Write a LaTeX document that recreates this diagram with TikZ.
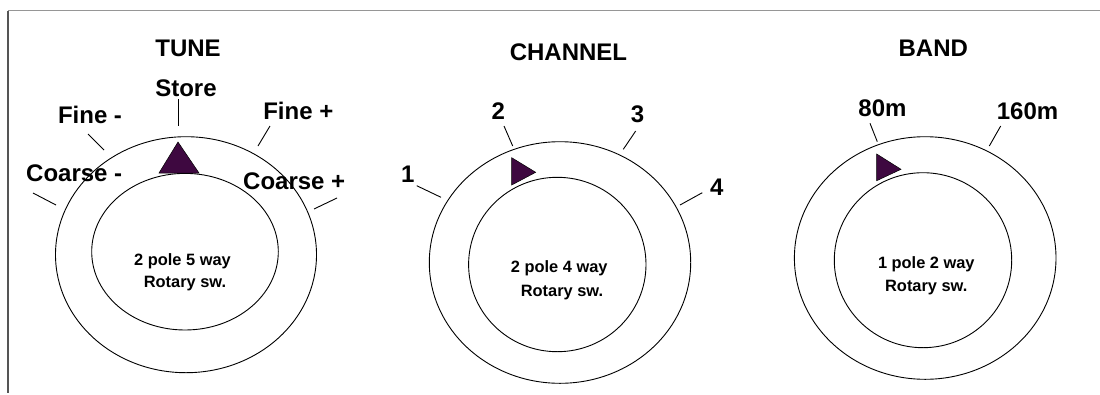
\documentclass[tikz,border=0pt]{standalone}
\usepackage{fontspec}
\setmainfont{Liberation Sans}
\definecolor{knob}{RGB}{62,8,64}
\definecolor{frametop}{RGB}{150,150,150}
\definecolor{frameleft}{RGB}{85,85,85}
\tikzset{
  ring/.style={draw=black, line width=0.9pt},
  tick/.style={draw=black, line width=0.9pt},
  title/.style={font=\bfseries\fontsize{24}{27}\selectfont, anchor=base, inner sep=0pt},
  lbl/.style={font=\bfseries\fontsize{24}{27}\selectfont, anchor=base, inner sep=0pt},
  inner/.style={font=\bfseries\fontsize{16.4}{19}\selectfont, anchor=base, inner sep=0pt},
  pointer/.style={fill=knob, draw=black, line width=0.5pt},
}
\begin{document}
\begin{tikzpicture}[x=1pt,y=-1pt]
\useasboundingbox (0,0) rectangle (1100,394);
% frame
\draw[frametop, line width=1.5pt] (8,10.5) -- (1100,10.5);
\draw[frameleft, line width=1.5pt] (8,10.5) -- (8,393);

% ================= TUNE =================
\node[title] (tuneT) at (188,56) {TUNE};
\draw[ring] (186,254.7) ellipse [x radius=130.5pt, y radius=118pt];
\draw[ring] (185,251.7) ellipse [x radius=93.3pt, y radius=78.3pt];
\node[inner] (tuneA) at (182.5,265) {2 pole 5 way};
\node[inner] (tuneB) at (185,287.3) {Rotary sw.};
\filldraw[pointer] (178,142) -- (159,173) -- (199,173) -- cycle;
\node[lbl] (store) at (186,96) {Store};
\node[lbl] (finem) at (90,123.3) {Fine -};
\node[lbl] (finep) at (298.3,119) {Fine +};
\node[lbl] (coarsem) at (74.2,181.7) {Coarse -};
\node[lbl] (coarsep) at (294.2,189.3) {Coarse +};
\coordinate (s1) at (178,99);  \coordinate (s2) at (178,126);
\coordinate (f1) at (88,134);  \coordinate (f2) at (104,150);
\coordinate (g1) at (270,126); \coordinate (g2) at (258,146);
\coordinate (c1) at (33,193);  \coordinate (c2) at (56,205);
\coordinate (d1) at (337,198); \coordinate (d2) at (314,209);
\draw[tick] (s1) -- (s2);
\draw[tick] (f1) -- (f2);
\draw[tick] (g1) -- (g2);
\draw[tick] (c1) -- (c2);
\draw[tick] (d1) -- (d2);

% ================= CHANNEL =================
\node[title] (chT) at (568.5,60) {CHANNEL};
\draw[ring] (560,262.5) ellipse [x radius=130.7pt, y radius=120.8pt];
\draw[ring] (557.3,264.5) ellipse [x radius=88.7pt, y radius=87.2pt];
\node[inner] (chA) at (559.2,272.7) {2 pole 4 way};
\node[inner] (chB) at (562,296) {Rotary sw.};
\filldraw[pointer] (511.7,157.7) -- (535.7,172.3) -- (511.7,185) -- cycle;
\node[lbl] (ch1) at (407.7,182.7) {1};
\node[lbl] (ch2) at (498.3,119) {2};
\node[lbl] (ch3) at (637.5,122.3) {3};
\node[lbl] (ch4) at (716.7,195.7) {4};
\coordinate (h1a) at (416.7,185.7); \coordinate (h1b) at (441,197.3);
\coordinate (h2a) at (504,126);     \coordinate (h2b) at (512.7,146);
\coordinate (h3a) at (635.7,131);   \coordinate (h3b) at (623.3,149.3);
\coordinate (h4a) at (702.3,192.7); \coordinate (h4b) at (680,205);
\draw[tick] (h1a) -- (h1b);
\draw[tick] (h2a) -- (h2b);
\draw[tick] (h3a) -- (h3b);
\draw[tick] (h4a) -- (h4b);

% ================= BAND =================
\node[title] (bandT) at (933.3,56) {BAND};
\draw[ring] (925.2,258) ellipse [x radius=130.8pt, y radius=121.3pt];
\draw[ring] (923,260.2) ellipse [x radius=88.7pt, y radius=87.5pt];
\node[inner] (bandA) at (926.3,268.3) {1 pole 2 way};
\node[inner] (bandB) at (926.3,291.7) {Rotary sw.};
\filldraw[pointer] (876.7,154) -- (901,169.3) -- (876.7,180.7) -- cycle;
\node[lbl] (b80) at (882.5,116) {80m};
\node[lbl] (b160) at (1027.5,119.3) {160m};
\coordinate (k1a) at (870,123.3);   \coordinate (k1b) at (877.3,141.7);
\coordinate (k2a) at (1000.7,126);  \coordinate (k2b) at (989.3,146);
\draw[tick] (k1a) -- (k1b);
\draw[tick] (k2a) -- (k2b);
\end{tikzpicture}
\end{document}
